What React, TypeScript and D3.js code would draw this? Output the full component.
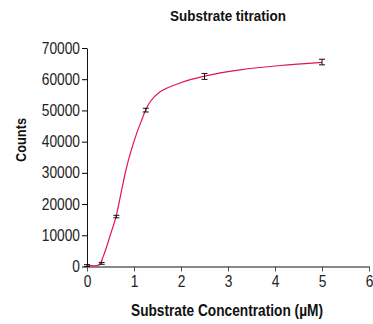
import React, { useEffect, useRef } from "react";
import * as d3 from "d3";

// measured points (substrate uM vs counts)
const concentrations = [0, 0.3125, 0.625, 1.25, 2.5, 5];
const counts = [300, 1000, 16000, 50100, 60900, 65500];
const errors = [300, 300, 400, 600, 950, 900];

// fitted curve
const fitX = [0, 0.256, 0.35, 0.49, 0.618, 0.74, 0.83, 0.917, 1.06, 1.166, 1.237, 1.34, 1.556, 1.98, 2.5, 3.26, 4.11, 5];
const fitY = [500, 500, 3400, 9800, 16000, 24700, 31000, 36000, 42800, 47000, 49700, 52700, 56000, 58800, 61000, 63000, 64400, 65400];

const xTicks = [0, 1, 2, 3, 4, 5, 6];
const yTicks = [0, 10000, 20000, 30000, 40000, 50000, 60000, 70000];

const FONT = "'Liberation Sans', Arial, sans-serif";
const SQ = 0.86; // squeeze for the condensed face

const App = () => {
  const ref = useRef<SVGSVGElement>(null);

  useEffect(() => {
    const margin = { top: 48, right: 4, bottom: 57, left: 87 },
      width = 373 - margin.left - margin.right,
      height = 324 - margin.top - margin.bottom;

    const root = d3.select(ref.current);
    root.selectAll("*").remove();
    const svg = root.append("g")
      .attr("transform", "translate(" + margin.left + "," + margin.top + ")");

    const x = d3.scaleLinear().domain([0, 6]).range([0, 282]);
    const y = d3.scaleLinear().domain([0, 70000]).range([height - 0.5, 0]);

    // x axis
    const xAxis = svg.append("g")
      .attr("transform", "translate(0," + (height - 0.5) + ")")
      .call(d3.axisBottom(x).tickValues(xTicks).tickSize(5).tickSizeOuter(0).tickFormat(d3.format("d")));
    xAxis.select(".domain").attr("stroke", "#888").attr("stroke-width", 2);
    xAxis.selectAll(".tick line").attr("stroke", "#555");
    xAxis.selectAll("text")
      .attr("font-family", FONT).attr("font-size", 16).attr("fill", "#222")
      .attr("dy", "0.8em").attr("transform", "scale(" + SQ + ",1)");

    // y axis
    const yAxis = svg.append("g")
      .call(d3.axisLeft(y).tickValues(yTicks).tickSize(5).tickSizeOuter(0).tickFormat(d3.format("d")));
    yAxis.select(".domain").attr("stroke", "#111");
    yAxis.selectAll("text")
      .attr("font-family", FONT).attr("font-size", 16).attr("fill", "#222")
      .attr("x", -7 / SQ).attr("transform", "scale(" + SQ + ",1)");

    const fit = fitX.map((v, i) => [v, fitY[i]] as [number, number]);
    svg.append("path")
      .datum(fit)
      .attr("fill", "none")
      .attr("stroke", "#e3164a")
      .attr("stroke-width", 1.2)
      .attr("d", d3.line<[number, number]>()
        .x(d => x(d[0]))
        .y(d => y(d[1]))
        .curve(d3.curveCatmullRom.alpha(0.5)));

    // error bars
    const pts = concentrations.map((c, i) => ({ c, v: counts[i], e: errors[i] }));
    const eb = svg.append("g").attr("stroke", "#111").attr("stroke-width", 1);
    pts.forEach(p => {
      const cx = x(p.c);
      eb.append("line").attr("x1", cx).attr("x2", cx)
        .attr("y1", y(p.v - p.e)).attr("y2", y(p.v + p.e));
      eb.append("line").attr("x1", cx - 3).attr("x2", cx + 3)
        .attr("y1", y(p.v - p.e)).attr("y2", y(p.v - p.e));
      eb.append("line").attr("x1", cx - 3).attr("x2", cx + 3)
        .attr("y1", y(p.v + p.e)).attr("y2", y(p.v + p.e));
    });

    // titles
    root.append("text")
      .attr("x", 228)
      .attr("y", 21)
      .attr("text-anchor", "middle")
      .attr("font-family", FONT)
      .attr("font-weight", "bold")
      .attr("font-size", 15)
      .attr("fill", "#111")
      .attr("textLength", 116)
      .attr("lengthAdjust", "spacingAndGlyphs")
      .text("Substrate titration");

    root.append("text")
      .attr("x", 227)
      .attr("y", 316)
      .attr("text-anchor", "middle")
      .attr("font-family", FONT)
      .attr("font-weight", "bold")
      .attr("font-size", 16)
      .attr("fill", "#111")
      .attr("textLength", 192)
      .attr("lengthAdjust", "spacingAndGlyphs")
      .text("Substrate Concentration (\u00b5M)");

    root.append("text")
      .attr("transform", "translate(26,140) rotate(-90)")
      .attr("text-anchor", "middle")
      .attr("font-family", FONT)
      .attr("font-weight", "bold")
      .attr("font-size", 15)
      .attr("fill", "#111")
      .attr("textLength", 44)
      .attr("lengthAdjust", "spacingAndGlyphs")
      .text("Counts");
  }, []);

  return (
    <svg ref={ref} width={373} height={324}
      style={{ position: "absolute", left: 0, top: 0, background: "#fff" }} />
  );
};

export default App;
